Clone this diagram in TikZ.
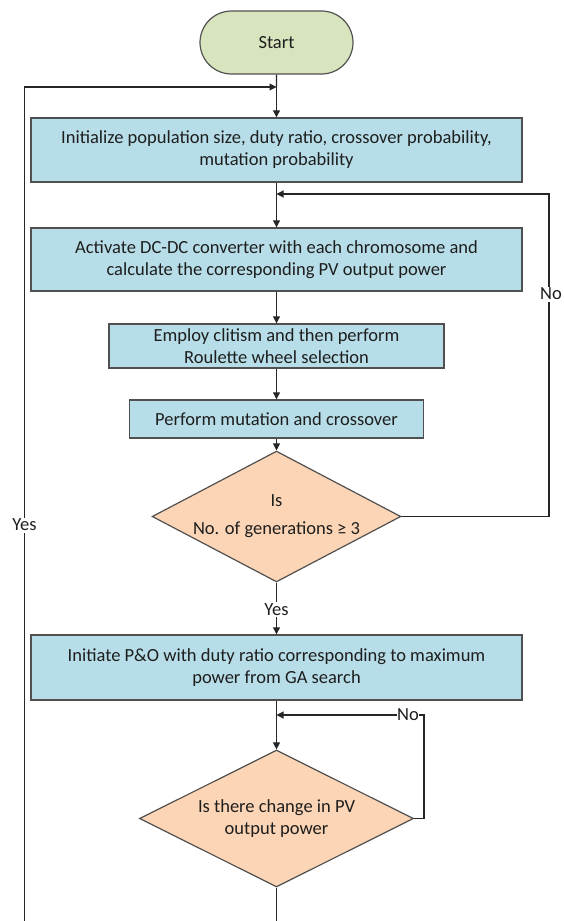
\documentclass[tikz,border=0pt]{standalone}
\usepackage{fontspec}
\setmainfont{Carlito}
\usetikzlibrary{shapes.geometric,shapes.misc,arrows.meta}
\definecolor{termfill}{HTML}{D7E4BD}
\definecolor{procfill}{HTML}{B7DEE8}
\definecolor{decfill}{HTML}{FBD5B5}
\definecolor{edge}{HTML}{505050}
\definecolor{txt}{HTML}{1E1E1E}
\begin{document}
\begin{tikzpicture}[x=1pt,y=-1pt,
  font=\fontsize{18.5}{22}\selectfont, text=txt,
  term/.style={rounded rectangle,draw=edge,line width=1.2pt,fill=termfill,inner sep=0pt},
  proc/.style={rectangle,draw=edge,line width=1.4pt,fill=procfill,align=center,inner sep=0pt},
  dec/.style={diamond,draw=edge,line width=1.2pt,fill=decfill,align=center,inner sep=0pt},
  conn/.style={draw=black!85,line width=1.1pt},
  arr/.style={conn,-{Triangle[length=7pt,width=7pt]}},
  lbl/.style={fill=white,inner sep=1.5pt}
]
\useasboundingbox (0,0) rectangle (563,921);

\node[term,minimum width=153pt,minimum height=63pt] (start) at (276.5,42.5) {Start};
\node[proc,minimum width=491pt,minimum height=64pt] (b1) at (276.5,150)
  {Initialize population size, duty ratio, crossover probability,\\mutation probability};
\node[proc,minimum width=491pt,minimum height=63pt] (b2) at (276.5,259.5)
  {Activate DC-DC converter with each chromosome and\\calculate the corresponding PV output power};
\node[proc,minimum width=335pt,minimum height=44pt] (b3) at (276.5,346)
  {Employ clitism and then perform\\Roulette wheel selection};
\node[proc,minimum width=294pt,minimum height=38pt] (b4) at (276.5,419)
  {Perform mutation and crossover};
\node[dec,minimum width=243pt,minimum height=127pt,shape aspect=1.9] (d1) at (276.5,516.5)
  {Is\\[6pt]No. of generations ≥ 3};
\node[proc,minimum width=491pt,minimum height=65pt] (b5) at (276.5,667.5)
  {Initiate P\&O with duty ratio corresponding to maximum\\power from GA search};
\node[dec,minimum width=274pt,minimum height=137pt,shape aspect=2] (d2) at (276.5,818.5)
  {Is there change in PV\\output power};

\coordinate (j1) at (276.5,87);
\coordinate (j2) at (276.5,194);
\coordinate (j3) at (276.5,715);
\coordinate (bl) at (24.5,921);
\coordinate (bm) at (276.5,921);
\coordinate (r1) at (549,194);
\coordinate (r2) at (424,715);

% main flow
\draw[conn] (start) -- (j1);
\draw[arr] (j1) -- (b1);
\draw[conn] (b1) -- (j2);
\draw[arr] (j2) -- (b2);
\draw[arr] (b2) -- (b3);
\draw[arr] (b3) -- (b4);
\draw[arr] (b4) -- (d1);
\draw[arr] (d1) -- node[lbl,pos=0.52] (yes1) {Yes} (b5);
\draw[conn] (b5) -- (j3);
\draw[arr] (j3) -- (d2);
\draw[conn] (d2) -- (bm);

% left loop (Yes)
\draw[arr] (bl) |- (j1);
\node[lbl] (yes2) at (24.5,525) {Yes};

% right loop (No)
\draw[arr] (d1.east) -| (r1) -- (j2);
\node[lbl] (no1) at (551,294) {No};

% lower loop (No)
\draw[arr] (d2.east) -| (r2) -- (j3);
\node[lbl,inner sep=0.5pt] (no2) at (408,715) {No};
\end{tikzpicture}
\end{document}
